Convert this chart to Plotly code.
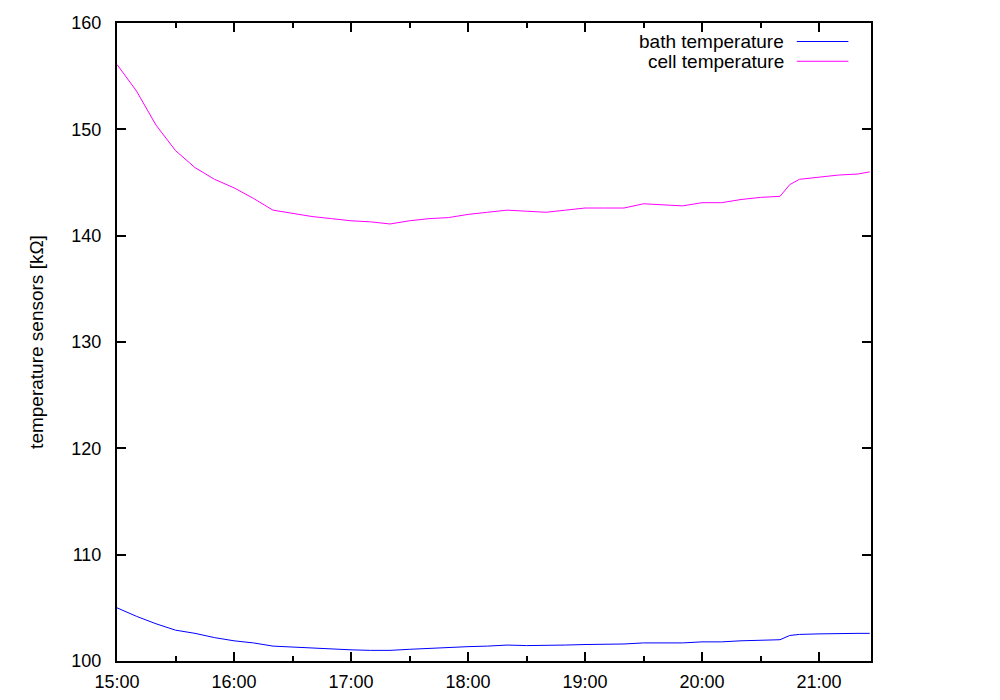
"""
Temperature sensor readings (bath and cell) over an afternoon, gnuplot-like look.
"""
import plotly.graph_objects as go

# sample times (HH:MM), same day
times = [
    "15:00", "15:10", "15:20", "15:30", "15:40", "15:50",
    "16:00", "16:10", "16:20", "16:30", "16:40", "16:50",
    "17:00", "17:10", "17:20", "17:30", "17:40", "17:50",
    "18:00", "18:10", "18:20", "18:30", "18:40", "18:50",
    "19:00", "19:10", "19:20", "19:30", "19:40", "19:50",
    "20:00", "20:10", "20:20", "20:30", "20:40", "20:45", "20:50",
    "21:00", "21:10", "21:20", "21:26",
]

# sensor readings in kOhm
bath_temperature = [
    105.0, 104.2, 103.5, 102.9, 102.6, 102.2,
    101.9, 101.7, 101.4, 101.3, 101.2, 101.1,
    101.05, 101.0, 101.0, 101.1, 101.2, 101.25,
    101.35, 101.4, 101.5, 101.45, 101.45, 101.5,
    101.55, 101.55, 101.6, 101.7, 101.7, 101.7,
    101.8, 101.8, 101.9, 101.95, 102.0, 102.4, 102.5,
    102.55, 102.6, 102.6, 102.6,
]
cell_temperature = [
    156.1, 153.6, 150.4, 148.0, 146.4, 145.3,
    144.5, 143.5, 142.4, 142.1, 141.8, 141.6,
    141.4, 141.3, 141.1, 141.4, 141.6, 141.7,
    142.0, 142.2, 142.4, 142.3, 142.2, 142.4,
    142.6, 142.6, 142.6, 143.0, 142.9, 142.8,
    143.1, 143.1, 143.4, 143.6, 143.7, 144.8, 145.3,
    145.5, 145.7, 145.8, 146.0,
]

x_times = ["2024-01-01 " + t for t in times]

fig = go.Figure()

fig.add_trace(go.Scatter(
    x=x_times, y=bath_temperature, mode='lines',
    line=dict(color='#0000ff', width=1),
    name='bath temperature', showlegend=False
))
fig.add_trace(go.Scatter(
    x=x_times, y=cell_temperature, mode='lines',
    line=dict(color='#ff00ff', width=1),
    name='cell temperature', showlegend=False
))

# gnuplot-style key: text right-aligned, sample line to its right
key = [('bath temperature', '#0000ff', 0.971), ('cell temperature', '#ff00ff', 0.940)]
for label, color, ky in key:
    fig.add_annotation(
        x=0.8833, y=ky, xref='paper', yref='paper', text=label,
        showarrow=False, xanchor='right', yanchor='middle',
        xshift=3, font=dict(size=19, color='black')
    )
    fig.add_shape(
        type='line', xref='paper', yref='paper',
        x0=0.9016, x1=0.9700, y0=ky, y1=ky,
        line=dict(color=color, width=1)
    )

# page body has an 8px margin, so margins are shifted to keep the plot box in place
fig.update_layout(
    width=1000, height=700,
    margin=dict(l=109, r=137, t=15, b=47),
    plot_bgcolor='white', paper_bgcolor='white',
    font=dict(family='Liberation Sans, Arial, sans-serif', size=18, color='black'),
    showlegend=False,
)

fig.update_xaxes(
    range=["2024-01-01 15:00:00", "2024-01-01 21:26:40"],
    tickformat='%H:%M', dtick=3600000, tick0="2024-01-01 15:00:00",
    ticks='inside', ticklen=9, tickwidth=1.5, tickcolor='black',
    minor=dict(dtick=1800000, ticks='inside', ticklen=5, tickwidth=1.5, tickcolor='black'),
    showline=True, linecolor='black', linewidth=2, mirror='ticks',
    showgrid=False, zeroline=False, ticklabelstandoff=3, automargin=False,
)
fig.update_yaxes(
    range=[100, 160], dtick=10,
    ticks='inside', ticklen=9, tickwidth=1.5, tickcolor='black',
    showline=True, linecolor='black', linewidth=2, mirror='ticks',
    showgrid=False, zeroline=False, ticklabelstandoff=10, automargin=False,
    title=dict(text='temperature sensors [kΩ]', standoff=23, font=dict(size=19)),
)

fig.write_html("out.html")
